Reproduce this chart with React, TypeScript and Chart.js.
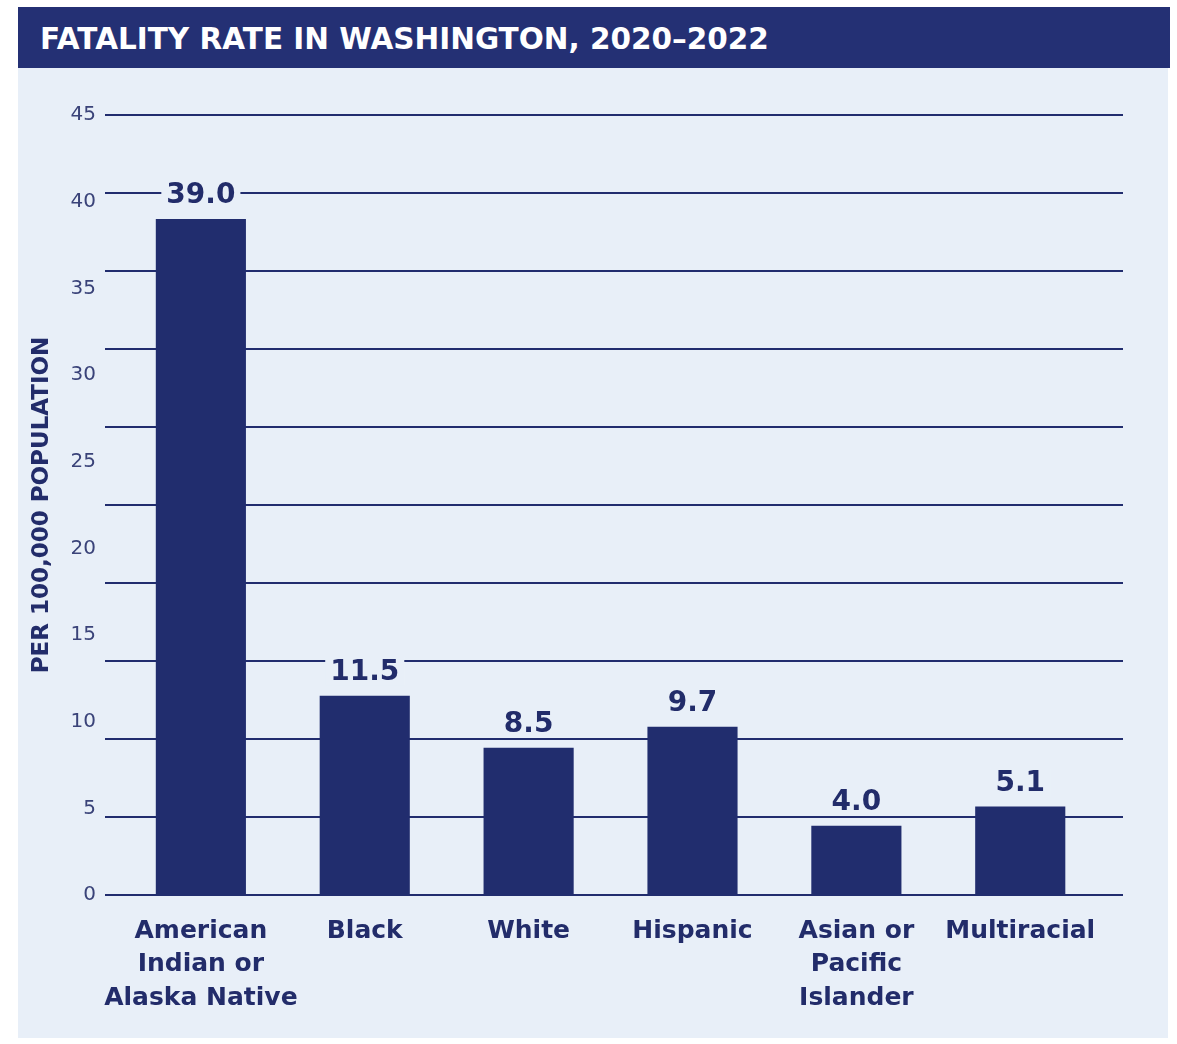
import React, { useEffect, useRef } from "react";
import { Chart, registerables } from "chart.js";

Chart.register(...registerables);

const TITLE = "FATALITY RATE IN WASHINGTON, 2020–2022";
const Y_TITLE = "PER 100,000 POPULATION";
const categories: string[][] = [
  ["American", "Indian or", "Alaska Native"],
  ["Black"],
  ["White"],
  ["Hispanic"],
  ["Asian or", "Pacific", "Islander"],
  ["Multiracial"],
];
const rates: number[] = [39.0, 11.5, 8.5, 9.7, 4.0, 5.1];
const valueLabels: string[] = ["39.0", "11.5", "8.5", "9.7", "4.0", "5.1"];
const yMin = 0;
const yMax = 45;
const yTickStep = 5;
const gridDivisions = 10;

const NAVY = "#212d6e";
const TITLE_BG = "#243074";
const PANEL = "#e8eff8";
const TEXT = "#222c6a";
const FONT = "'DejaVu Sans', Lato, sans-serif";

const valueLabelPlugin = {
  id: "valueLabels",
  afterDatasetsDraw(chart: any) {
    const ctx = chart.ctx;
    const meta = chart.getDatasetMeta(0);
    ctx.save();
    ctx.font = `bold 28px ${FONT}`;
    ctx.textAlign = "center";
    ctx.textBaseline = "middle";
    meta.data.forEach((bar: any, i: number) => {
      const text = valueLabels[i];
      const w = ctx.measureText(text).width;
      const cx = bar.x;
      const cy = bar.y - 24;
      ctx.fillStyle = PANEL;
      ctx.fillRect(cx - w / 2 - 5, cy - 14, w + 10, 28);
      ctx.fillStyle = TEXT;
      ctx.fillText(text, cx, cy + 1);
    });
    ctx.restore();
  },
};

export default function App() {
  const ref = useRef<HTMLCanvasElement | null>(null);

  useEffect(() => {
    if (!ref.current) return;
    const chart = new Chart(ref.current, {
      type: "bar",
      data: {
        datasets: [
          {
            data: rates.map((v, i) => ({ x: i, y: v })),
            backgroundColor: NAVY,
            borderWidth: 0,
            categoryPercentage: 1,
            barPercentage: 0.55,
            yAxisID: "y",
          },
        ],
      },
      options: {
        responsive: false,
        animation: false,
        maintainAspectRatio: false,
        layout: { padding: { top: 47, right: 45, left: 0, bottom: 0 } },
        plugins: {
          legend: { display: false },
          tooltip: { enabled: false },
          title: { display: false },
        },
        scales: {
          x: {
            type: "linear",
            offset: false,
            min: -0.585,
            max: 5.627,
            grid: { display: false, offset: false },
            border: { display: false },
            ticks: {
              stepSize: 1,
              includeBounds: false,
              autoSkip: false,
              maxRotation: 0,
              padding: 12,
              color: TEXT,
              font: { family: FONT, size: 25, weight: "bold", lineHeight: 1.33 },
              callback: (v: any) => {
                const idx = Number(v);
                return Number.isInteger(idx) && categories[idx] ? categories[idx] : "";
              },
            },
            afterFit: (s: any) => {
              s.height = 143;
            },
          },
          y: {
            type: "linear",
            position: "left",
            min: yMin,
            max: yMax,
            grid: { display: false },
            border: { display: false },
            ticks: {
              stepSize: yTickStep,
              padding: 1,
              color: "#3a4379",
              font: { family: FONT, size: 20 },
            },
            title: {
              display: true,
              text: Y_TITLE,
              color: TEXT,
              padding: { top: 13, bottom: 0 },
              font: { family: FONT, size: 23, weight: "bold", lineHeight: 1.0 },
            },
            afterFit: (s: any) => {
              s.width = 87;
            },
          },
          yGrid: {
            type: "linear",
            position: "left",
            min: yMin,
            max: yMax,
            grid: {
              display: true,
              color: NAVY,
              lineWidth: 2,
              drawTicks: false,
            },
            border: { display: false },
            ticks: {
              display: false,
              stepSize: (yMax - yMin) / gridDivisions,
            },
            afterFit: (s: any) => {
              s.width = 0;
            },
          },
        },
      },
      plugins: [valueLabelPlugin],
    } as any);
    return () => chart.destroy();
  }, []);

  return (
    <div
      style={{
        position: "fixed",
        left: 0,
        top: 0,
        width: 1177,
        height: 1044,
        background: "#ffffff",
      }}
    >
      <div
        style={{
          position: "absolute",
          left: 18,
          top: 7,
          width: 1152,
          height: 61,
          boxSizing: "border-box",
          background: TITLE_BG,
          color: "#ffffff",
          fontFamily: FONT,
          fontWeight: 700,
          fontSize: 29.5,
          paddingLeft: 22,
          paddingTop: 2,
          display: "flex",
          alignItems: "center",
          whiteSpace: "nowrap",
        }}
      >
        {TITLE}
      </div>
      <canvas
        ref={ref}
        width={1150}
        height={970}
        style={{
          position: "absolute",
          left: 18,
          top: 68,
          width: 1150,
          height: 970,
          background: PANEL,
        }}
      />
    </div>
  );
}
